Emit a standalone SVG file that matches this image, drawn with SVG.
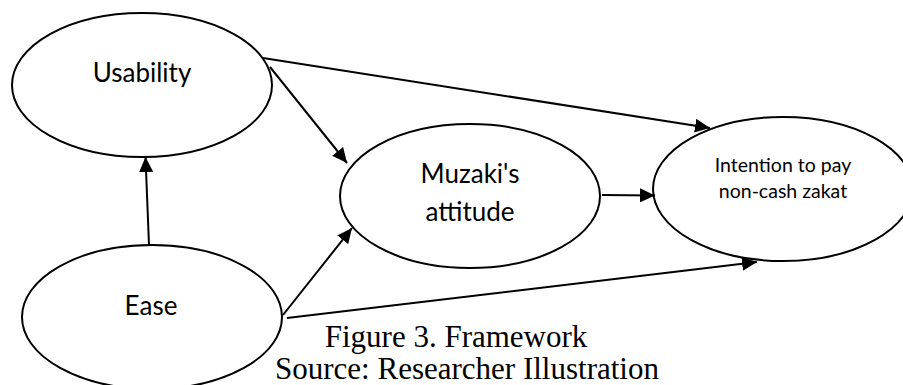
<svg xmlns="http://www.w3.org/2000/svg" width="903" height="385" viewBox="0 0 903 385">
<style>
.node ellipse{fill:#fff;stroke:#000;stroke-width:2}
.lbl{font-family:Lato,"Open Sans",sans-serif;font-size:26px;fill:#000;text-anchor:middle}
.sm{font-size:19.5px}
.edge{stroke:#000;stroke-width:2;fill:none;marker-end:url(#ah)}
.cap{font-family:"Liberation Serif","Times New Roman",serif;font-size:31px;fill:#000;text-anchor:middle}
</style>
<defs>
<marker id="ah" markerUnits="userSpaceOnUse" markerWidth="15" markerHeight="14" refX="15" refY="7" orient="auto">
<path d="M0,0 L15,7 L0,14 z" fill="#000"/>
</marker>
</defs>
<rect width="903" height="385" fill="#fff"/>
<g id="usability" class="node">
<ellipse cx="142" cy="85" rx="130" ry="72"/>
<text class="lbl" x="142" y="82">Usability</text>
</g>
<g id="muzaki" class="node">
<ellipse cx="470" cy="196" rx="130" ry="72"/>
<text class="lbl" x="470" y="183">Muzaki's</text>
<text class="lbl" x="470" y="221">attitude</text>
</g>
<g id="intention" class="node">
<ellipse cx="783" cy="189" rx="130" ry="72"/>
<text class="lbl sm" x="783" y="172">Intention to pay</text>
<text class="lbl sm" x="783" y="198">non-cash zakat</text>
</g>
<g id="ease" class="node">
<ellipse cx="152" cy="317" rx="130" ry="72"/>
<text class="lbl" x="151" y="315">Ease</text>
</g>
<g id="connectors">
<line class="edge" x1="149" y1="245" x2="145.5" y2="157"/>
<line class="edge" x1="270" y1="67" x2="347" y2="163"/>
<line class="edge" x1="263" y1="58" x2="710" y2="128"/>
<line class="edge" x1="602" y1="195" x2="655" y2="195.5"/>
<line class="edge" x1="283" y1="315" x2="352" y2="228"/>
<line class="edge" x1="287" y1="318" x2="757" y2="262"/>
</g>
<g id="caption">
<text class="cap" x="456" y="347">Figure 3. Framework</text>
<text class="cap" x="467" y="379">Source: Researcher Illustration</text>
</g>
</svg>
